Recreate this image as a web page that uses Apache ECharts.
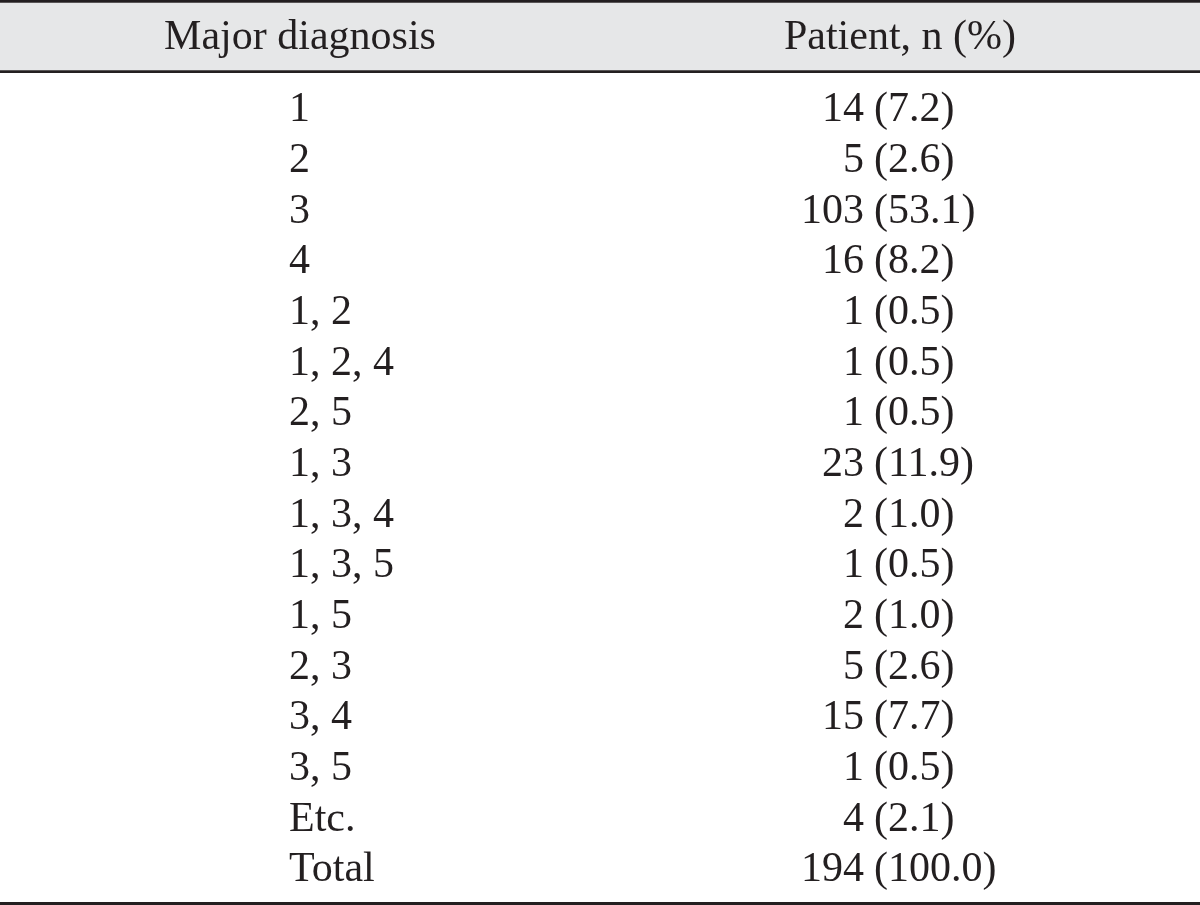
<!DOCTYPE html>
<html>
<head>
<meta charset="utf-8">
<script src="https://cdn.jsdelivr.net/npm/echarts@6/dist/echarts.min.js"></script>
<style>
  html, body { margin: 0; padding: 0; background: #ffffff; }
  #chart { width: 1200px; height: 905px; }
</style>
</head>
<body>
<div id="chart"></div>
<script>
// ---- data ----
var columnHeaders = ['Major diagnosis', 'Patient, n (%)'];
var diagnoses = ['1', '2', '3', '4', '1, 2', '1, 2, 4', '2, 5', '1, 3', '1, 3, 4', '1, 3, 5', '1, 5', '2, 3', '3, 4', '3, 5', 'Etc.', 'Total'];
var patientCounts = [14, 5, 103, 16, 1, 1, 1, 23, 2, 1, 2, 5, 15, 1, 4, 194];
var patientPercents = ['7.2', '2.6', '53.1', '8.2', '0.5', '0.5', '0.5', '11.9', '1.0', '0.5', '1.0', '2.6', '7.7', '0.5', '2.1', '100.0'];

var FONT = '"Liberation Serif", "Times New Roman", serif';
var INK = '#231f20';
var FS = 42;

var chart = echarts.init(document.getElementById('chart'), null, { renderer: 'canvas' });

var labelData = diagnoses.map(function (d, i) { return { value: [columnHeaders[0], d], label: { formatter: d } }; });
var countData = diagnoses.map(function (d, i) { return { value: [columnHeaders[1], d], label: { formatter: String(patientCounts[i]) } }; });
var pctData = diagnoses.map(function (d, i) { return { value: [columnHeaders[1], d], label: { formatter: '(' + patientPercents[i] + ')' } }; });

function textSeries(data, align, offsetX) {
  return {
    type: 'scatter',
    data: data,
    symbolSize: 0,
    silent: true,
    itemStyle: { opacity: 1 },
    label: {
      show: true,
      position: 'inside',
      align: align,
      verticalAlign: 'middle',
      offset: [offsetX, 0],
      fontFamily: FONT,
      fontSize: FS,
      color: INK,
      opacity: 1,
      textBorderWidth: 0
    }
  };
}

var option = {
  backgroundColor: '#ffffff',
  animation: false,
  grid: { left: 0, right: 0, top: 85, bottom: 9.5, containLabel: false },
  xAxis: {
    type: 'category',
    position: 'top',
    data: columnHeaders,
    axisLine: { show: false },
    axisTick: { show: false },
    splitLine: { show: false },
    axisLabel: {
      show: true,
      margin: 47,
      verticalAlign: 'middle',
      fontFamily: FONT,
      fontSize: FS,
      color: INK
    }
  },
  yAxis: {
    type: 'category',
    inverse: true,
    data: diagnoses,
    show: false
  },
  graphic: [
    { type: 'rect', z: -10, shape: { x: 0, y: 2.7, width: 1200, height: 67.6 }, style: { fill: '#e6e7e8' } },
    { type: 'line', shape: { x1: 0, y1: 1.35, x2: 1200, y2: 1.35 }, style: { stroke: INK, lineWidth: 2.7 } },
    { type: 'line', shape: { x1: 0, y1: 71.6, x2: 1200, y2: 71.6 }, style: { stroke: INK, lineWidth: 2.7 } },
    { type: 'line', shape: { x1: 0, y1: 903.5, x2: 1200, y2: 903.5 }, style: { stroke: INK, lineWidth: 3 } }
  ],
  series: [
    textSeries(labelData, 'left', -11),
    textSeries(countData, 'right', -36),
    textSeries(pctData, 'left', -26)
  ]
};

chart.setOption(option);
</script>
</body>
</html>
